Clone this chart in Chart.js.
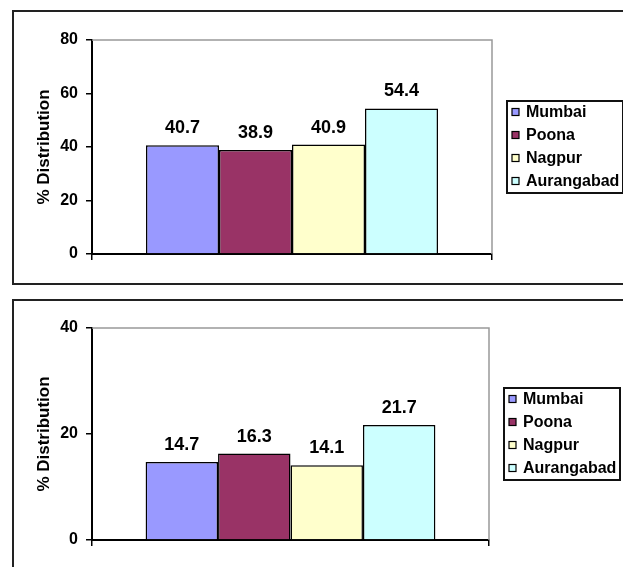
<!DOCTYPE html>
<html>
<head>
<meta charset="utf-8">
<script src="https://cdn.jsdelivr.net/npm/chart.js@4"></script>
<style>
  html, body { margin: 0; padding: 0; background: #fff; overflow: hidden; width: 623px; height: 567px; }
  .frame { position: absolute; border: 2px solid #222; box-sizing: border-box; }
  canvas { position: absolute; left: 0; }
</style>
</head>
<body>
<div class="frame" style="left:12px; top:10px; width:660px; height:275px;"></div>
<div class="frame" style="left:12px; top:299px; width:660px; height:320px;"></div>
<canvas id="chartTop" width="623" height="290" style="top:0"></canvas>
<canvas id="chartBottom" width="623" height="277" style="top:290px"></canvas>

<script>
"use strict";

var cities       = ['Mumbai', 'Poona', 'Nagpur', 'Aurangabad'];
var cityColors   = ['#9999ff', '#993366', '#ffffcc', '#ccffff'];
var valuesTop    = [40.7, 38.9, 40.9, 54.4];
var valuesBottom = [14.7, 16.3, 14.1, 21.7];
var ticksTop     = [0, 20, 40, 60, 80];
var ticksBottom  = [0, 20, 40];
var axisTitle    = '% Distribution';

var FONT = '"Liberation Sans", Arial, sans-serif';

/* borde gris superior y derecho del área de trazado */
var plotFrame = {
  id: 'plotFrame',
  beforeDatasetsDraw: function(chart) {
    var ctx = chart.ctx, a = chart.chartArea;
    ctx.save();
    ctx.strokeStyle = '#999999';
    ctx.lineWidth = 1.5;
    ctx.beginPath();
    ctx.moveTo(a.left, a.top);
    ctx.lineTo(a.right, a.top);
    ctx.lineTo(a.right, a.bottom);
    ctx.stroke();
    ctx.restore();
  }
};

/* etiquetas de valor sobre cada barra */
var valueLabels = {
  id: 'valueLabels',
  afterDatasetsDraw: function(chart) {
    var ctx = chart.ctx;
    ctx.save();
    ctx.font = 'bold 18px ' + FONT;
    ctx.fillStyle = '#000';
    ctx.textAlign = 'center';
    ctx.textBaseline = 'alphabetic';
    chart.data.datasets.forEach(function(ds, i) {
      var bar = chart.getDatasetMeta(i).data[0];
      ctx.fillText(ds.data[0].toFixed(1), bar.x, bar.y - 12);
    });
    ctx.restore();
  }
};

/* leyenda con recuadro, a la derecha */
var boxLegend = {
  id: 'boxLegend',
  afterDraw: function(chart) {
    var ctx = chart.ctx, a = chart.chartArea;
    var w = 116, h = 92;
    var x = a.right + 15;
    var y = Math.round((a.top + a.bottom) / 2 - h / 2);
    ctx.save();
    ctx.strokeStyle = '#111';
    ctx.lineWidth = 2;
    ctx.strokeRect(x, y, w, h);
    ctx.font = 'bold 16px ' + FONT;
    ctx.textBaseline = 'middle';
    ctx.textAlign = 'left';
    chart.data.datasets.forEach(function(ds, i) {
      var cy = y + 11 + i * 23;
      ctx.fillStyle = ds.backgroundColor;
      ctx.fillRect(x + 5, cy - 3.5, 7, 7);
      ctx.lineWidth = 1.2;
      ctx.strokeStyle = '#000';
      ctx.strokeRect(x + 5, cy - 3.5, 7, 7);
      ctx.fillStyle = '#000';
      ctx.fillText(ds.label, x + 19, cy + 1);
    });
    ctx.restore();
  }
};

function makeChart(canvasId, values, ticks, pad, xHeight) {
  return new Chart(document.getElementById(canvasId), {
    type: 'bar',
    data: {
      labels: [''],
      datasets: cities.map(function(c, i) {
        return {
          label: c,
          data: [values[i]],
          backgroundColor: cityColors[i],
          borderColor: '#000',
          borderWidth: 1.5,
          barPercentage: 1,
          categoryPercentage: 0.73
        };
      })
    },
    options: {
      responsive: false,
      animation: false,
      layout: { padding: pad },
      plugins: { legend: { display: false }, tooltip: { enabled: false } },
      scales: {
        x: {
          offset: true,
          ticks: { display: false },
          grid: { offset: true, drawOnChartArea: false, drawTicks: true, tickLength: 6, color: '#000', lineWidth: 1.5 },
          border: { color: '#000', width: 2 },
          afterFit: function(s) { s.height = xHeight; }
        },
        y: {
          min: ticks[0],
          max: ticks[ticks.length - 1],
          ticks: {
            stepSize: ticks[1] - ticks[0],
            color: '#000',
            padding: 8,
            font: { family: FONT, size: 16, weight: 'bold' }
          },
          grid: { drawOnChartArea: false, drawTicks: true, tickLength: 6, color: '#000', lineWidth: 1.5 },
          border: { color: '#000', width: 2 },
          title: {
            display: true,
            text: axisTitle,
            color: '#000',
            padding: { top: 34, bottom: 0 },
            font: { family: FONT, size: 17, weight: 'bold' }
          },
          afterFit: function(s) { s.width = 92; }
        }
      }
    },
    plugins: [plotFrame, valueLabels, boxLegend]
  });
}

makeChart('chartTop', valuesTop, ticksTop, { left: 0, top: 40, right: 131, bottom: 0 }, 36);
makeChart('chartBottom', valuesBottom, ticksBottom, { left: 0, top: 38, right: 134, bottom: 0 }, 27);
</script>
</body>
</html>
